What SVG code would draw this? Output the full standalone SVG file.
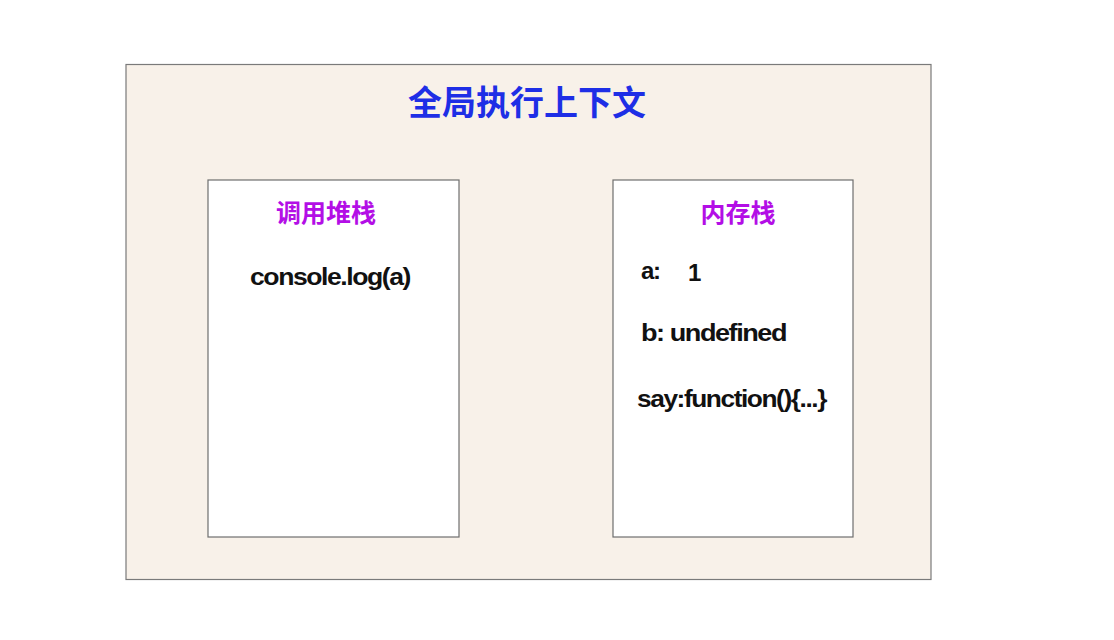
<svg xmlns="http://www.w3.org/2000/svg" width="1114" height="640" viewBox="0 0 1114 640">
<style>
.box{fill:#ffffff;stroke:#6e6e6e;stroke-width:1.2}
.t{font-family:"Liberation Sans","Noto Sans CJK SC",sans-serif;font-weight:bold}
.h{font-size:25px;fill:#b30ee6;text-anchor:middle}
.c{font-size:24px;fill:#111;letter-spacing:-1.3px}
</style>
<rect width="1114" height="640" fill="#ffffff"/>
<g id="global">
<rect x="126" y="64.5" width="805" height="515" fill="#f8f1e9" stroke="#7a7a7a" stroke-width="1.2"/>
<text class="t" x="527" y="115" font-size="34" fill="#1e2ee6" text-anchor="middle">全局执行上下文</text>
</g>
<g id="callstack">
<rect class="box" x="208" y="180" width="251" height="357"/>
<text class="t h" x="326" y="222">调用堆栈</text>
<text class="t c" x="250" y="285" textLength="160" lengthAdjust="spacingAndGlyphs">console.log(a)</text>
</g>
<g id="memory">
<rect class="box" x="613" y="180" width="240" height="357"/>
<text class="t h" x="738" y="222">内存栈</text>
<text class="t c" x="641" y="279">a:</text>
<text class="t c" x="688" y="281">1</text>
<text class="t c" x="641" y="341" textLength="145" lengthAdjust="spacingAndGlyphs">b: undefined</text>
<text class="t c" x="637" y="407" textLength="189" lengthAdjust="spacingAndGlyphs">say:function(){...}</text>
</g>
<g id="connectors"></g>
</svg>
